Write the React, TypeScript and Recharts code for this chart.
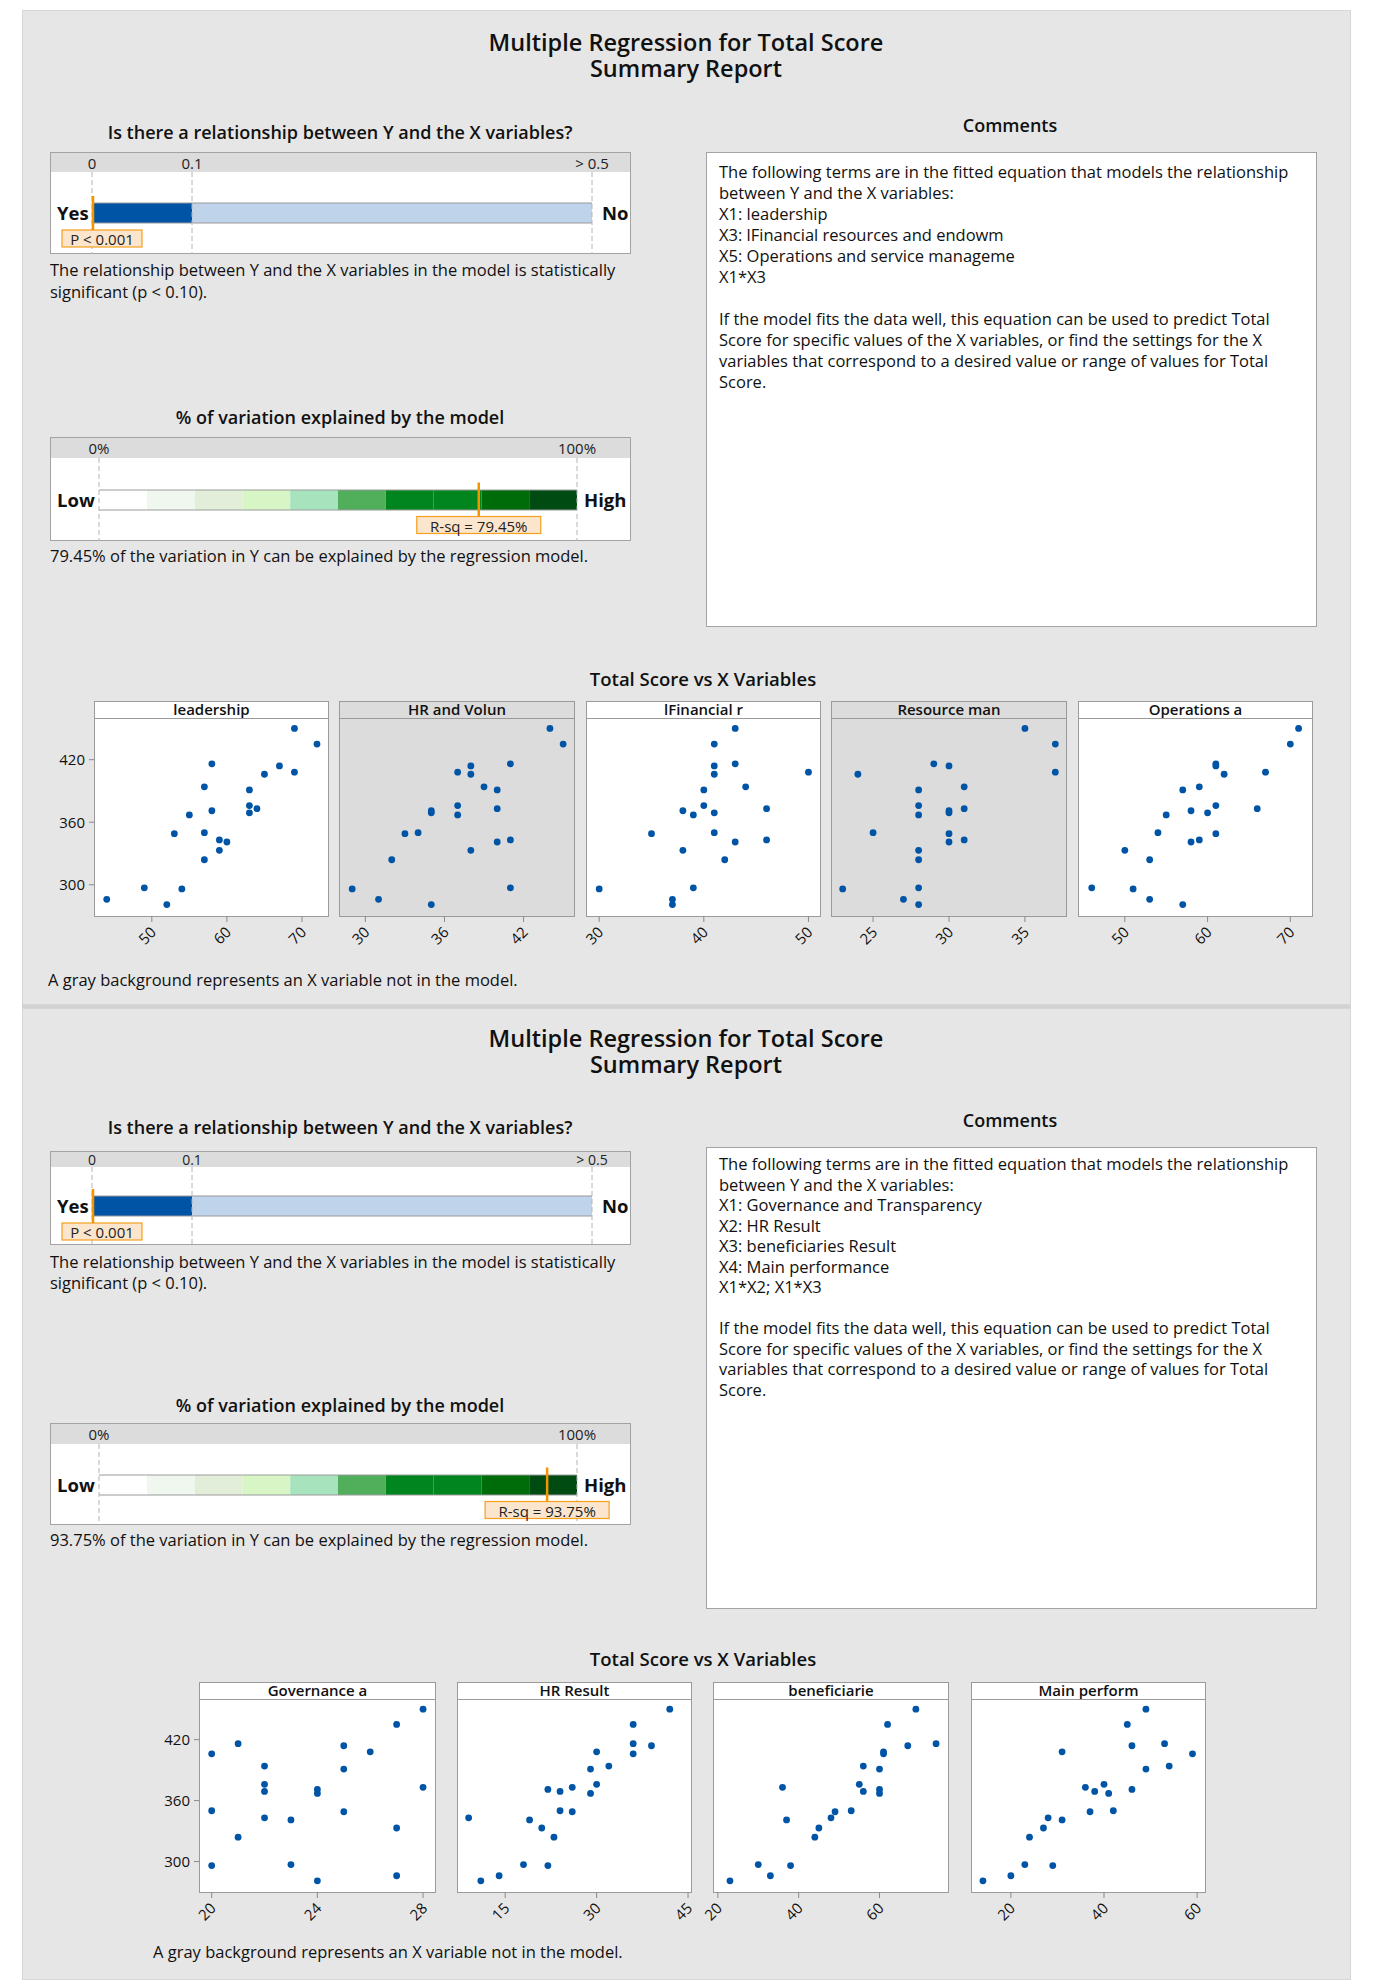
import {
  Bar,
  BarChart,
  ReferenceLine,
  Scatter,
  ScatterChart,
  XAxis,
  YAxis,
} from "recharts";

const FONT = '"Open Sans", Lato, sans-serif';
const BLUE = "#0054a6";

// Total Score (Y) — same observations in every panel, sorted high to low
const totalScore = [450, 435, 416, 414, 408, 406, 394, 391, 376, 373, 371, 369, 367, 350, 349, 343, 341, 333, 324, 297, 296, 286, 281];

// first report X variables
const leadership = [69, 72, 58, 67, 69, 65, 57, 63, 63, 64, 58, 63, 55, 57, 53, 59, 60, 59, 57, 49, 54, 44, 52];
const hrVolun = [44, 45, 41, 38, 37, 38, 39, 40, 37, 40, 35, 35, 37, 34, 33, 41, 40, 38, 32, 41, 29, 31, 35];
const financial = [43, 41, 43, 41, 50, 41, 44, 40, 40, 46, 38, 41, 39, 41, 35, 46, 43, 38, 42, 39, 30, 37, 37];
const resourceMan = [35, 37, 29, 30, 37, 24, 31, 28, 28, 31, 30, 30, 28, 25, 30, 31, 30, 28, 28, 28, 23, 27, 28];
const operations = [71, 70, 61, 61, 67, 62, 59, 57, 61, 66, 58, 60, 55, 54, 61, 59, 58, 50, 53, 46, 51, 53, 57];

// second report X variables
const governance = [28, 27, 21, 25, 26, 20, 22, 25, 22, 28, 24, 22, 24, 20, 25, 22, 23, 27, 21, 23, 20, 27, 24];
const hrResult = [42, 36, 36, 39, 30, 36, 32, 29, 30, 26, 22, 24, 29, 24, 26, 9, 19, 21, 23, 18, 22, 14, 11];
const beneficiaries = [69, 62, 74, 67, 61, 61, 56, 60, 55, 36, 60, 56, 60, 53, 49, 48, 37, 45, 44, 30, 38, 33, 23];
const mainPerf = [49, 45, 53, 46, 31, 59, 54, 49, 40, 36, 46, 38, 41, 42, 37, 28, 31, 27, 24, 23, 29, 20, 14];

const yTicks = [300, 360, 420];
const yDomain: [number, number] = [270, 460];

const pTicks = [0, 0.1, 0.5];
const pSegments = [0.1, 0.4]; // 0-0.1 significant, 0.1-0.5 not
const rsqTicks = [0, 100];
const rsqBands = [10, 10, 10, 10, 10, 10, 10, 10, 10, 10];
const rsqBandColors = ["#ffffff", "#f0f7ef", "#e2eed9", "#d8f6c5", "#a7e3bd", "#51af5c", "#00851f", "#00851f", "#006b09", "#004b12"];

const topTerms = ["X1: leadership", "X3: lFinancial resources and endowm", "X5: Operations and service manageme", "X1*X3"];
const bottomTerms = ["X1: Governance and Transparency", "X2: HR Result", "X3: beneficiaries Result", "X4: Main performance", "X1*X2; X1*X3"];

const topPanels = [
  { title: "leadership", xs: leadership, domain: [42.3, 73.6], ticks: [50, 60, 70], gray: false },
  { title: "HR and Volun", xs: hrVolun, domain: [28.0, 45.9], ticks: [30, 36, 42], gray: true },
  { title: "lFinancial r", xs: financial, domain: [28.74, 51.2], ticks: [30, 40, 50], gray: false },
  { title: "Resource man", xs: resourceMan, domain: [22.23, 37.77], ticks: [25, 30, 35], gray: true },
  { title: "Operations a", xs: operations, domain: [44.34, 72.74], ticks: [50, 60, 70], gray: false },
];
const bottomPanels = [
  { title: "Governance a", xs: governance, domain: [19.52, 28.49], ticks: [20, 24, 28], gray: false },
  { title: "HR Result", xs: hrResult, domain: [7.09, 45.65], ticks: [15, 30, 45], gray: false },
  { title: "beneficiarie", xs: beneficiaries, domain: [18.8, 77.2], ticks: [20, 40, 60], gray: false },
  { title: "Main perform", xs: mainPerf, domain: [11.44, 61.9], ticks: [20, 40, 60], gray: false },
];

// panel boxes [left, width]
const topPanelBoxes = [[94, 235], [339, 236], [586, 235], [831, 236], [1078, 235]];
const bottomPanelBoxes = [[199, 237], [457, 235], [713, 236], [971, 235]];

const topLayout = {
  bgTop: 10, bgH: 995, titleY: 55, headY: 132, commentsHeadY: 125,
  pTop: 152, pHeader: 20, pH: 102, pTextY: [270, 292],
  rsqHead: 417, rsqTop: 437, rsqHeader: 21, rsqH: 104, rsqTextY: 556,
  cTop: 152, cH: 475, cPad: 8, cLine: 21,
  scTitleY: 679, panelTop: 701, headerH: 17, plotH: 198, noteX: 48, noteY: 980,
};
const bottomLayout = {
  bgTop: 1008, bgH: 972, titleY: 1051, headY: 1127, commentsHeadY: 1120,
  pTop: 1151, pHeader: 16, pH: 94, pTextY: [1262, 1283],
  rsqHead: 1405, rsqTop: 1423, rsqHeader: 21, rsqH: 102, rsqTextY: 1540,
  cTop: 1147, cH: 462, cPad: 6, cLine: 20.5,
  scTitleY: 1659, panelTop: 1682, headerH: 17, plotH: 193, noteX: 153, noteY: 1952,
};

function Txt({ x, y, size = 16.5, weight = 400, anchor = "start", lh = 1, children }: any) {
  return (
    <div
      style={{
        position: "absolute",
        left: x,
        top: y,
        transform: `translate(${anchor === "middle" ? "-50%" : "0"}, -50%)`,
        whiteSpace: "nowrap",
        textAlign: anchor === "middle" ? "center" : "left",
        fontSize: size,
        fontWeight: weight,
        lineHeight: lh,
      }}
    >
      {children}
    </div>
  );
}

const edgedRect = (props: any) => {
  const { x, y, width, height, fill } = props;
  return (
    <g>
      <rect x={x} y={y} width={width} height={height} fill={fill} />
      <line x1={x} x2={x + width} y1={y} y2={y} stroke="#9a9a9a" />
      <line x1={x} x2={x + width} y1={y + height} y2={y + height} stroke="#9a9a9a" />
    </g>
  );
};

function markerShape(label: string, boxW: number, dx: number) {
  return (props: any) => {
    const x = props.x1;
    const cy = (props.y1 + props.y2) / 2;
    return (
      <g>
        <rect x={x + dx - boxW / 2} y={cy + 17} width={boxW} height={17} fill="#fbe5cc" stroke="#f5a01d" strokeWidth={1.2} />
        <text x={x + dx} y={cy + 26} textAnchor="middle" dominantBaseline="central" fontSize={15} fill="#222">
          {label}
        </text>
        <line x1={x} x2={x} y1={cy - 17} y2={cy + 17} stroke="#f39400" strokeWidth={2.5} />
      </g>
    );
  };
}

function headerTick(h: number, fmt: (v: number) => string) {
  const fs = Math.min(15, h - 2);
  return (props: any) => (
    <text x={props.x} y={h / 2 + 0.5} textAnchor="middle" dominantBaseline="central" fontSize={fs} fill="#222">
      {fmt(props.payload.value)}
    </text>
  );
}

function GaugeBox({ top, headerH, height }: any) {
  return (
    <>
      <div style={{ position: "absolute", left: 50, top, width: 581, height, background: "#fff", border: "1px solid #a3a3a3", boxSizing: "border-box" }} />
      <div style={{ position: "absolute", left: 51, top: top + 1, width: 579, height: headerH - 1, background: "#dcdcdc" }} />
    </>
  );
}

function PValueBar({ top, headerH, height }: any) {
  const row = [{ name: "p", sig: pSegments[0], rest: pSegments[1] }];
  const cy = top + headerH + (height - headerH) / 2;
  return (
    <>
      <GaugeBox top={top} headerH={headerH} height={height} />
      <Txt x={57} y={cy} size={18.5} weight={700}>Yes</Txt>
      <Txt x={602} y={cy} size={18.5} weight={700}>No</Txt>
      <div style={{ position: "absolute", left: 50, top }}>
        <BarChart layout="vertical" width={581} height={height} data={row} margin={{ top: 0, right: 39, bottom: 0, left: 42 }}>
          <XAxis
            type="number"
            orientation="top"
            domain={[0, 0.5]}
            ticks={pTicks}
            interval={0}
            height={headerH}
            axisLine={false}
            tickLine={false}
            tick={headerTick(headerH, (v) => (v === 0.5 ? "> 0.5" : String(v)))}
          />
          <YAxis type="category" dataKey="name" hide />
          <Bar dataKey="sig" stackId="p" fill={BLUE} barSize={20} shape={edgedRect} isAnimationActive={false} />
          <Bar dataKey="rest" stackId="p" fill="#bfd3ea" barSize={20} shape={edgedRect} isAnimationActive={false} />
          {pTicks.map((t) => (
            <ReferenceLine key={t} x={t} stroke="#b4b4b4" strokeDasharray="5 3" />
          ))}
          <ReferenceLine x={0.001} shape={markerShape("P < 0.001", 80, 9)} />
        </BarChart>
      </div>
    </>
  );
}

function RsqBar({ top, headerH, height, rsq }: any) {
  const row: any = { name: "r" };
  rsqBands.forEach((v, i) => {
    row[`b${i}`] = v;
  });
  const cy = top + headerH + (height - headerH) / 2;
  return (
    <>
      <GaugeBox top={top} headerH={headerH} height={height} />
      <Txt x={57} y={cy} size={18.5} weight={700}>Low</Txt>
      <Txt x={584} y={cy} size={18.5} weight={700}>High</Txt>
      <div style={{ position: "absolute", left: 50, top }}>
        <BarChart layout="vertical" width={581} height={height} data={[row]} margin={{ top: 0, right: 54, bottom: 0, left: 49 }}>
          <XAxis
            type="number"
            orientation="top"
            domain={[0, 100]}
            ticks={rsqTicks}
            interval={0}
            height={headerH}
            axisLine={false}
            tickLine={false}
            tick={headerTick(headerH, (v) => `${v}%`)}
          />
          <YAxis type="category" dataKey="name" hide />
          {rsqBands.map((_, i) => (
            <Bar key={i} dataKey={`b${i}`} stackId="r" fill={rsqBandColors[i]} barSize={20} shape={edgedRect} isAnimationActive={false} />
          ))}
          {rsqTicks.map((t) => (
            <ReferenceLine key={t} x={t} stroke="#b4b4b4" strokeDasharray="5 3" />
          ))}
          <ReferenceLine x={rsq} shape={markerShape(`R-sq = ${rsq.toFixed(2)}%`, 124, 0)} />
        </BarChart>
      </div>
    </>
  );
}

const dot = (props: any) => <circle cx={props.cx} cy={props.cy} r={3.4} fill={BLUE} />;

const rotTick = (props: any) => {
  const { x, y, payload } = props;
  const tx = x + 1;
  const ty = y + 5;
  return (
    <text x={tx} y={ty} transform={`rotate(-45 ${tx} ${ty})`} textAnchor="end" dominantBaseline="central" fontSize={15} fill="#111">
      {payload.value}
    </text>
  );
};

const PAD = 30; // room for rotated tick labels that hang past the panel edge

function ScatterPanel({ panel, left, width, top, headerH, plotH, showY }: any) {
  const data = panel.xs.map((x: number, i: number) => ({ x, y: totalScore[i] }));
  const yw = showY ? 44 : 0;
  const bg = panel.gray ? "#dcdcdc" : "#fff";
  return (
    <>
      <div style={{ position: "absolute", left, top, width, height: headerH + plotH + 1, background: bg, border: "1px solid #9a9a9a", boxSizing: "border-box" }} />
      <div style={{ position: "absolute", left, top: top + headerH, width, height: 1, background: "#9a9a9a" }} />
      <div
        style={{
          position: "absolute",
          left,
          top,
          width,
          height: headerH,
          lineHeight: `${headerH}px`,
          textAlign: "center",
          fontSize: 15,
          fontWeight: 600,
        }}
      >
        {panel.title}
      </div>
      <div style={{ position: "absolute", left: left - yw - PAD, top: top + headerH }}>
        <ScatterChart width={width + yw + 2 * PAD} height={plotH + 50} margin={{ top: 0, right: PAD, bottom: 0, left: PAD }}>
          <XAxis
            type="number"
            dataKey="x"
            domain={panel.domain}
            ticks={panel.ticks}
            interval={0}
            allowDataOverflow
            axisLine={false}
            tickSize={6}
            tickLine={{ stroke: "#8a8a8a" }}
            height={50}
            tick={rotTick}
          />
          <YAxis
            type="number"
            dataKey="y"
            domain={yDomain}
            ticks={yTicks}
            interval={0}
            allowDataOverflow
            hide={!showY}
            width={yw}
            axisLine={false}
            tickSize={5}
            tickMargin={4}
            tickLine={{ stroke: "#8a8a8a" }}
            tick={{ fontSize: 15, fill: "#111" }}
          />
          <Scatter data={data} shape={dot} isAnimationActive={false} />
        </ScatterChart>
      </div>
    </>
  );
}

function Report({ L, rsq, terms, panels, boxes }: any) {
  const comments = [
    "The following terms are in the fitted equation that models the relationship",
    "between Y and the X variables:",
    ...terms,
    "",
    "If the model fits the data well, this equation can be used to predict Total",
    "Score for specific values of the X variables, or find the settings for the X",
    "variables that correspond to a desired value or range of values for Total",
    "Score.",
  ];
  return (
    <>
      <div style={{ position: "absolute", left: 22, top: L.bgTop, width: 1329, height: L.bgH, background: "#e6e6e6", border: "1px solid #d6d6d6", boxSizing: "border-box" }} />
      <Txt x={686} y={L.titleY} size={23.5} weight={600} anchor="middle" lh="26px">
        Multiple Regression for Total Score
        <br />
        Summary Report
      </Txt>

      <Txt x={340} y={L.headY} size={18} weight={600} anchor="middle">Is there a relationship between Y and the X variables?</Txt>
      <PValueBar top={L.pTop} headerH={L.pHeader} height={L.pH} />
      <Txt x={50} y={L.pTextY[0]}>The relationship between Y and the X variables in the model is statistically</Txt>
      <Txt x={50} y={L.pTextY[1]}>significant (p &lt; 0.10).</Txt>

      <Txt x={340} y={L.rsqHead} size={18} weight={600} anchor="middle">% of variation explained by the model</Txt>
      <RsqBar top={L.rsqTop} headerH={L.rsqHeader} height={L.rsqH} rsq={rsq} />
      <Txt x={50} y={L.rsqTextY}>{`${rsq.toFixed(2)}% of the variation in Y can be explained by the regression model.`}</Txt>

      <Txt x={1010} y={L.commentsHeadY} size={18} weight={600} anchor="middle">Comments</Txt>
      <div
        style={{
          position: "absolute",
          left: 706,
          top: L.cTop,
          width: 611,
          height: L.cH,
          background: "#fff",
          border: "1px solid #a3a3a3",
          boxSizing: "border-box",
          padding: `${L.cPad}px 0 0 12px`,
          fontSize: 16.5,
          lineHeight: `${L.cLine}px`,
          whiteSpace: "nowrap",
        }}
      >
        {comments.map((line, i) => (
          <div key={i} style={{ height: L.cLine }}>{line || "\u00a0"}</div>
        ))}
      </div>

      <Txt x={703} y={L.scTitleY} size={18.5} weight={600} anchor="middle">Total Score vs X Variables</Txt>
      {panels.map((p: any, i: number) => (
        <ScatterPanel
          key={p.title}
          panel={p}
          left={boxes[i][0]}
          width={boxes[i][1]}
          top={L.panelTop}
          headerH={L.headerH}
          plotH={L.plotH}
          showY={i === 0}
        />
      ))}
      <Txt x={L.noteX} y={L.noteY}>A gray background represents an X variable not in the model.</Txt>
    </>
  );
}

export default function App() {
  return (
    <div
      style={{
        position: "absolute",
        left: 0,
        top: 0,
        width: 1374,
        height: 1984,
        background: "#fff",
        fontFamily: FONT,
        color: "#111",
        overflow: "hidden",
      }}
    >
      <Report L={topLayout} rsq={79.45} terms={topTerms} panels={topPanels} boxes={topPanelBoxes} />
      <div style={{ position: "absolute", left: 22, top: 1005, width: 1329, height: 3, background: "#d2d2d2" }} />
      <Report L={bottomLayout} rsq={93.75} terms={bottomTerms} panels={bottomPanels} boxes={bottomPanelBoxes} />
    </div>
  );
}
